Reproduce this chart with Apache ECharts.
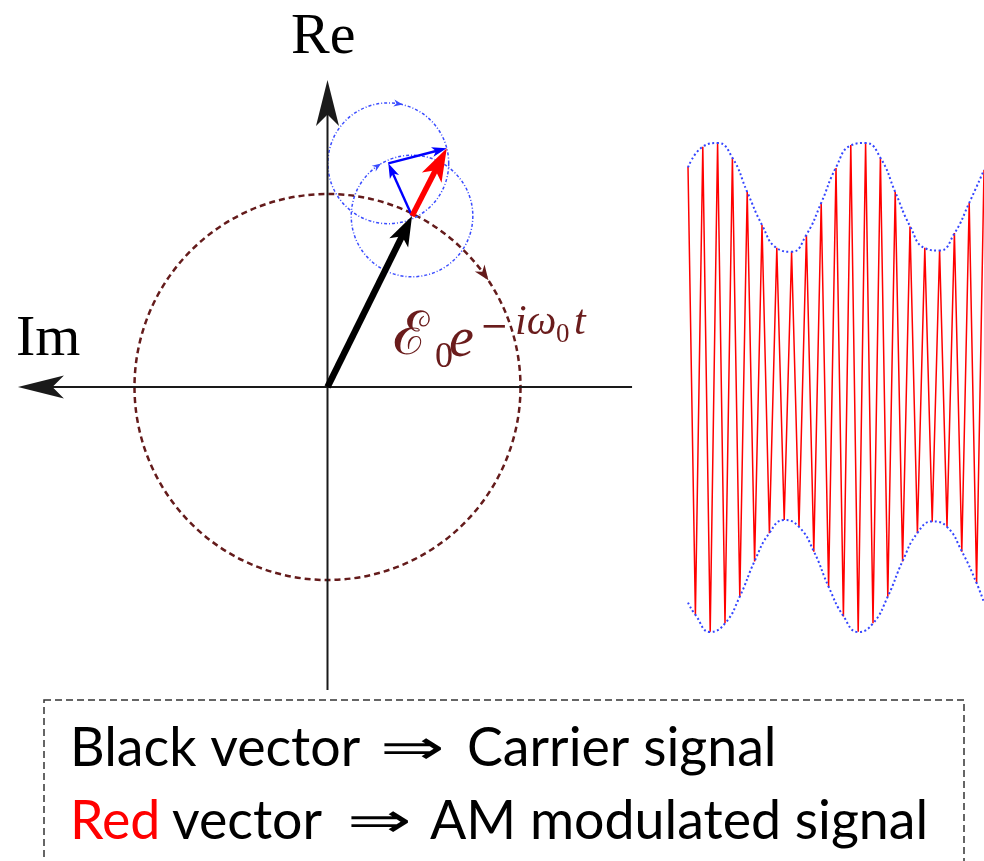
<!DOCTYPE html>
<html><head><meta charset="utf-8">
<script src="https://cdn.jsdelivr.net/npm/echarts@6/dist/echarts.min.js"></script>
<style>html,body{margin:0;padding:0;background:#fff;}#c{width:984px;height:861px;}</style>
</head><body><div id="c"></div>
<script>
// ---------- Phasor diagram data (units: carrier amplitude E0 = 1) ----------
const axisSegments = [          // [x0, y0, x1, y1]  (arrow at the second point)
  [1.578, 0, -1.604, 0],        // Im axis, arrow to the left
  [0, -1.570, 0, 1.591]         // Re axis, arrow up
];
const carrierVector = [[0, 0, 0.438, 0.886]];
const sidebandVectors = [
  [0.438, 0.886, 0.315, 1.159],
  [0.315, 1.159, 0.618, 1.237]
];
const amVector = [[0.438, 0.886, 0.618, 1.237]];
const carrierCircle = [[0, 0, 1.0, 35.8]];             // cx, cy, r, arrow angle (deg)
const sidebandCircles = [[0.438, 0.886, 0.315, 124.7], [0.315, 1.159, 0.313, 80.5]];

// ---------- AM signal data (carrier half-cycles k = 0..40) ----------
const carrierSwings = [0.903,-0.930,0.985,-0.999,1.001,-0.964,0.939,-0.856,0.801,-0.712,
  0.665,-0.596,0.571,-0.542,0.555,-0.569,0.624,-0.672,0.755,-0.815,0.898,-0.937,0.992,-0.999,
  1.0,-0.964,0.939,-0.856,0.801,-0.712,0.658,-0.596,0.571,-0.549,0.562,-0.569,0.632,-0.672,
  0.755,-0.801,0.89];
const envUpper = [0.90,0.985,1.0,0.94,0.80,0.665,0.57,0.555,0.625,0.755,0.90,0.99,1.0,0.94,
  0.80,0.66,0.57,0.56,0.63,0.755,0.89];                 // at k = 0,2,...,40
const envLower = [-0.88,-0.93,-1.0,-0.965,-0.855,-0.71,-0.595,-0.542,-0.57,-0.67,-0.815,
  -0.935,-1.0,-0.965,-0.855,-0.71,-0.595,-0.548,-0.57,-0.67,-0.80,-0.88]; // at k = 0,1,3,...,39,40

// ---------- text ----------
const axisLabels = ['Re', 'Im'];
const legendLine1 = ['Black vector', '\u21D2', 'Carrier signal'];
const legendLine2 = ['Red', 'vector', '\u21D2', 'AM modulated signal'];

// ---------- helpers ----------
const envUpperK = envUpper.map((v, i) => i * 2);
const envLowerK = envLower.map((v, i) => i === 0 ? 0 : (i === envLower.length - 1 ? 40 : 2 * i - 1));

function arrowSeries(data, st) {
  return {
    type: 'custom', coordinateSystem: 'cartesian2d', xAxisIndex: 0, yAxisIndex: 0,
    silent: true, animation: false, z: st.z, data: data,
    renderItem: function (params, api) {
      const p0 = api.coord([api.value(0), api.value(1)]);
      const p1 = api.coord([api.value(2), api.value(3)]);
      const dx = p1[0] - p0[0], dy = p1[1] - p0[1];
      const len = Math.hypot(dx, dy);
      const ux = dx / len, uy = dy / len, nx = -uy, ny = ux;
      const L = st.headLen, W = st.headWidth;
      const bx = p1[0] - ux * L, by = p1[1] - uy * L;
      const mx = p1[0] - ux * L * (1 - st.notch), my = p1[1] - uy * L * (1 - st.notch);
      const ex = p1[0] - ux * L * 0.6, ey = p1[1] - uy * L * 0.6;
      return { type: 'group', children: [
        { type: 'line', shape: { x1: p0[0], y1: p0[1], x2: ex, y2: ey },
          style: { stroke: st.color, lineWidth: st.width, lineCap: 'butt' } },
        { type: 'polygon', shape: { points: [[p1[0], p1[1]], [bx + nx * W / 2, by + ny * W / 2], [mx, my], [bx - nx * W / 2, by - ny * W / 2]] },
          style: { fill: st.color } }
      ] };
    }
  };
}

function circleSeries(data, st) {
  return {
    type: 'custom', coordinateSystem: 'cartesian2d', xAxisIndex: 0, yAxisIndex: 0,
    silent: true, animation: false, z: st.z, data: data,
    renderItem: function (params, api) {
      const c = api.coord([api.value(0), api.value(1)]);
      const rp = api.size([api.value(2), 0])[0];
      const a = api.value(3) * Math.PI / 180;
      const px = c[0] + rp * Math.cos(a), py = c[1] - rp * Math.sin(a);
      const ux = Math.sin(a), uy = Math.cos(a), nx = -uy, ny = ux;   // clockwise tangent
      const L = st.headLen, W = st.headWidth;
      const tx = px + ux * L / 2, ty = py + uy * L / 2;
      const bx = px - ux * L / 2, by = py - uy * L / 2;
      const mx = tx - ux * L * 0.7, my = ty - uy * L * 0.7;
      return { type: 'group', children: [
        { type: 'circle', shape: { cx: c[0], cy: c[1], r: rp },
          style: { fill: null, stroke: st.color, lineWidth: st.width, lineDash: st.dash } },
        { type: 'polygon', shape: { points: [[tx, ty], [bx + nx * W / 2, by + ny * W / 2], [mx, my], [bx - nx * W / 2, by - ny * W / 2]] },
          style: { fill: st.color } }
      ] };
    }
  };
}

function fitSize(text, family, target) {
  const ctx = document.createElement('canvas').getContext('2d');
  ctx.font = '100px ' + family;
  return 100 * target / ctx.measureText(text).width;
}

// ---------- layout ----------
const S = 193;                 // px per unit in phasor panel
const O = [327.5, 387];        // origin px
const xr = [-1.65, 1.7], yr = [-1.65, 1.75];
const legendFamily = 'Lato';
const lf = fitSize(legendLine2[3], legendFamily, 498);
const lfont = lf.toFixed(1) + 'px ' + legendFamily;
const brown = '#641b1b';
const formulaColor = '#6a1c1c';

const chart = echarts.init(document.getElementById('c'), null, { renderer: 'canvas' });
const txt = (text, x, y, font, fill, extra) => Object.assign({ type: 'text', silent: true,
  style: Object.assign({ text: text, x: x, y: y, font: font, fill: fill || '#000', align: 'left', verticalAlign: 'middle' }, extra || {}) });
const arrowTxt = (text, x, y) => ({ type: 'text', silent: true, x: x, y: y, scaleX: 1.68, scaleY: 1.05,
  style: { text: text, x: 0, y: 0, font: '46px "DejaVu Sans"', fill: '#000', align: 'left', verticalAlign: 'middle' } });

chart.setOption({
  animation: false,
  backgroundColor: '#fff',
  grid: [
    { left: O[0] + xr[0] * S, top: O[1] - yr[1] * S, width: (xr[1] - xr[0]) * S, height: (yr[1] - yr[0]) * S, show: false },
    { left: 688, top: 387.5 - 1.1 * 244.5, width: 296, height: 2.2 * 244.5, show: false }
  ],
  xAxis: [
    { type: 'value', gridIndex: 0, min: xr[0], max: xr[1], show: false },
    { type: 'value', gridIndex: 1, min: 0, max: 40, show: false }
  ],
  yAxis: [
    { type: 'value', gridIndex: 0, min: yr[0], max: yr[1], show: false },
    { type: 'value', gridIndex: 1, min: -1.1, max: 1.1, show: false }
  ],
  series: [
    circleSeries(carrierCircle, { color: brown, width: 2.5, dash: [6, 4], headLen: 15, headWidth: 12, z: 2 }),
    circleSeries(sidebandCircles, { color: '#3a4cff', width: 1.5, dash: [3, 2, 1, 2], headLen: 9, headWidth: 7, z: 3 }),
    arrowSeries(axisSegments, { color: '#1a1a1a', width: 2, headLen: 46, headWidth: 23, notch: 0.25, z: 4 }),
    arrowSeries(sidebandVectors, { color: '#0000ff', width: 2.4, headLen: 15, headWidth: 10, notch: 0.25, z: 5 }),
    arrowSeries(amVector, { color: '#ff0000', width: 5.5, headLen: 33, headWidth: 22, notch: 0.25, z: 6 }),
    arrowSeries(carrierVector, { color: '#000000', width: 6.5, headLen: 30, headWidth: 21, notch: 0.25, z: 7 }),
    { type: 'line', xAxisIndex: 1, yAxisIndex: 1, data: carrierSwings.map((v, k) => [k, v]),
      symbol: 'none', clip: false, silent: true, z: 2, lineStyle: { color: '#ff0000', width: 1.5 } },
    { type: 'line', xAxisIndex: 1, yAxisIndex: 1, data: envUpper.map((v, i) => [envUpperK[i], v]),
      symbol: 'none', smooth: 0.5, clip: false, silent: true, z: 3, lineStyle: { color: '#3344ff', width: 2, type: [2, 2.5] } },
    { type: 'line', xAxisIndex: 1, yAxisIndex: 1, data: envLower.map((v, i) => [envLowerK[i], v]),
      symbol: 'none', smooth: 0.5, clip: false, silent: true, z: 3, lineStyle: { color: '#3344ff', width: 2, type: [2, 2.5] } }
  ],
  graphic: [
    txt(axisLabels[0], 291, 38, '58px "Liberation Serif"'),
    txt(axisLabels[1], 16, 340, '58px "Liberation Serif"'),
    // formula  E_0 e^{-i w_0 t}
    txt('\u2130', 393, 338, '60px "DejaVu Serif"', formulaColor),
    txt('0', 435, 358, '36px "Liberation Serif"', formulaColor),
    txt('e', 449, 341, 'italic 56px "Liberation Serif"', formulaColor),
    txt('\u2212', 480, 328, '34px "DejaVu Serif"', formulaColor),
    txt('i\u03C9', 515, 323, 'italic 42px "Liberation Serif"', formulaColor),
    txt('0', 556, 335, '27px "Liberation Serif"', formulaColor),
    txt('t', 574, 323, 'italic 42px "Liberation Serif"', formulaColor),
    // legend box
    { type: 'rect', silent: true, shape: { x: 44, y: 700, width: 920, height: 220 },
      style: { fill: null, stroke: '#333', lineWidth: 1.5, lineDash: [7, 4] } },
    txt(legendLine1[0], 70, 749, lfont),
    arrowTxt(legendLine1[1], 380, 751),
    txt(legendLine1[2], 467, 749, lfont),
    txt(legendLine2[0], 70, 822, lfont, '#ff0000'),
    txt(legendLine2[1], 172, 822, lfont),
    arrowTxt(legendLine2[2], 347, 824),
    txt(legendLine2[3], 430, 822, lfont)
  ]
});
</script></body></html>
